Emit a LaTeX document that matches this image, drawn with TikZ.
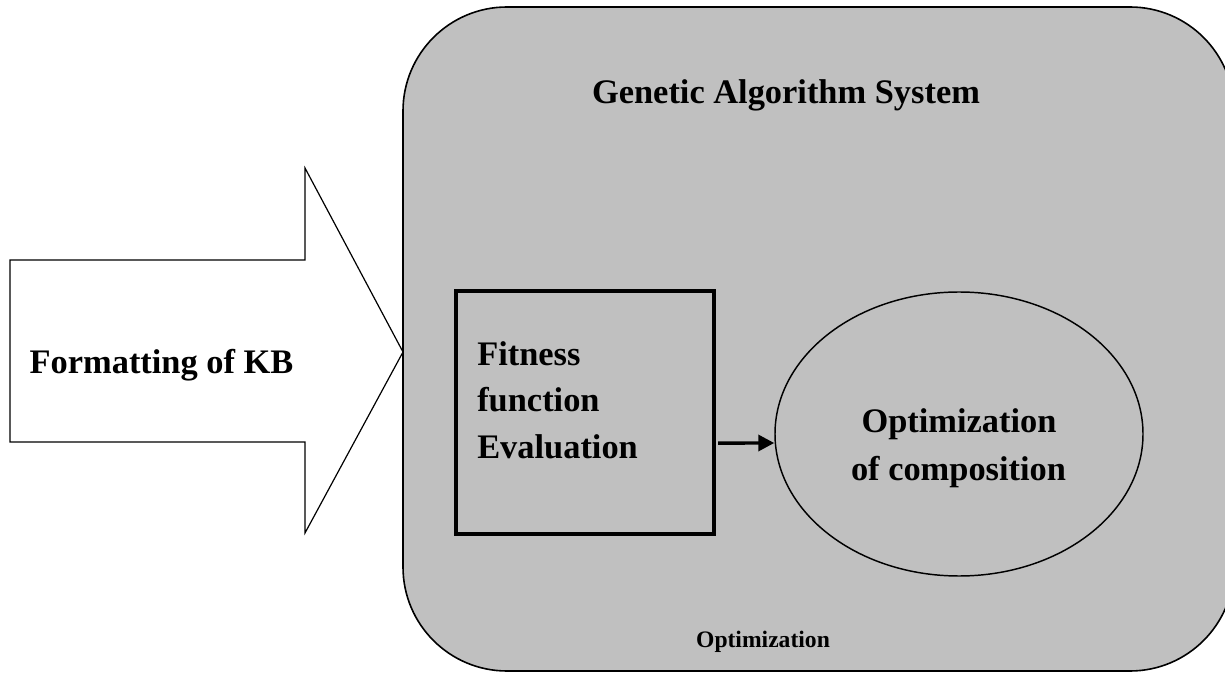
\documentclass[tikz,border=0pt]{standalone}
\usepackage{fontspec}
\setmainfont{Liberation Serif}
\usetikzlibrary{arrows.meta,shapes.geometric}
\definecolor{gafill}{HTML}{C0C0C0}
\tikzset{
  big/.style={font=\fontsize{25.8pt}{30pt}\selectfont\bfseries, inner sep=0pt, anchor=base},
  small/.style={font=\fontsize{17.7pt}{21pt}\selectfont\bfseries, inner sep=0pt, anchor=base},
  fitbox/.style={draw, line width=3pt, minimum width=193.5pt, minimum height=181.5pt, inner sep=0pt},
  ell/.style={draw, ellipse, line width=1.1pt, minimum width=276pt, minimum height=213pt, inner sep=0pt},
  conn/.style={line width=2.6pt, -{Triangle[length=12pt,width=12pt]}},
  bigarrow/.style={line width=0.9pt, fill=white, line join=miter},
  system/.style={fill=gafill, line width=1.2pt, rounded corners=78pt}
}
\begin{document}
\begin{tikzpicture}[x=0.75pt,y=-0.75pt]
\useasboundingbox (0,0) rectangle (1225,673);
\begin{scope}
  \clip (0,0) rectangle (1225,673);
  \draw[system] (403,7) rectangle (1234,671);
\end{scope}
\draw[bigarrow] (10,260) -- (305,260) -- (305,168) -- (403,352) -- (305,533) -- (305,442) -- (10,442) -- cycle;
\node[big] (kb) at (161.5,374) {Formatting of KB};
\node[big] (title) at (786,104) {Genetic Algorithm System};
\node[small] (opt) at (763,647) {Optimization};
\node[fitbox] (fit) at (584.5,412.5) {};
\node[big, anchor=base west] (fit1) at (477,366) {Fitness};
\node[big, anchor=base west] (fit2) at (477,412) {function};
\node[big, anchor=base west] (fit3) at (477,459) {Evaluation};
\node[ell] (oc) at (959,434) {};
\node[big] (oc1) at (959,433) {Optimization};
\node[big] (oc2) at (958.5,480) {of composition};
\draw[conn] ([xshift=1.9pt,yshift=-22.9pt]fit.east) -- ([yshift=-6.75pt]oc.west);
\end{tikzpicture}
\end{document}
